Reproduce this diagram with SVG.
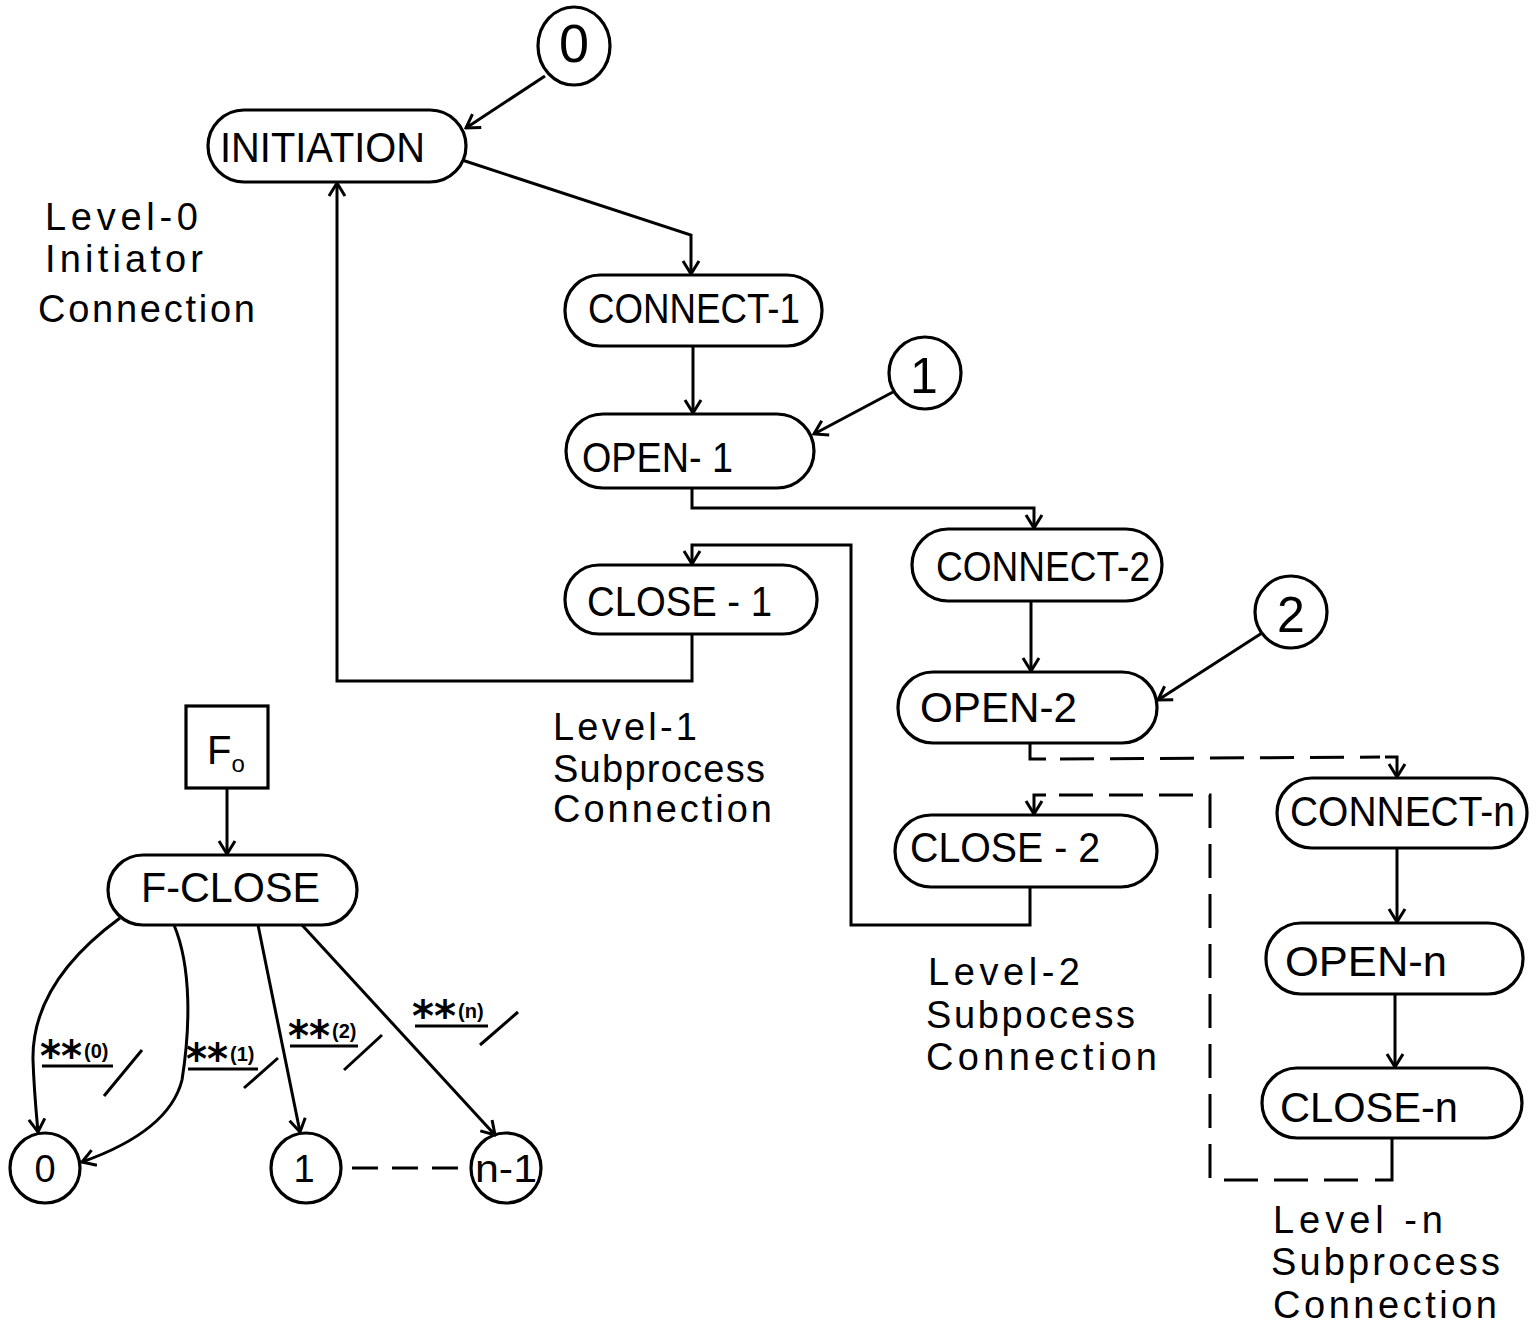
<svg xmlns="http://www.w3.org/2000/svg" width="1540" height="1331" viewBox="0 0 1540 1331">
<style>
.n{fill:none;stroke:#000;stroke-width:3.2}
.c{fill:none;stroke:#000;stroke-width:3}
.d{fill:none;stroke:#000;stroke-width:3;stroke-dasharray:34,16}
.t{font-family:"Liberation Sans",Arial,sans-serif;font-size:42px;fill:#000}
.l{font-family:"Liberation Sans",Arial,sans-serif;font-size:38px;fill:#000}
.a{font-family:"DejaVu Sans",sans-serif;font-size:42px;font-weight:bold;fill:#000}
.p{font-family:"Liberation Sans",Arial,sans-serif;font-size:20px;font-weight:bold;fill:#000}
</style>
<defs>
<marker id="arr" markerWidth="16" markerHeight="20" viewBox="-14 -10 16 20" refX="0" refY="0" orient="auto" markerUnits="userSpaceOnUse">
<path d="M-13,-8 L0,0 L-13,8" fill="none" stroke="#000" stroke-width="3"/>
</marker>
</defs>
<rect width="1540" height="1331" fill="#fff"/>

<g id="connectors">
<path class="c" d="M545,76 L466,128" marker-end="url(#arr)"/>
<path class="c" d="M462,160 L691,235 L691,274" marker-end="url(#arr)"/>
<path class="c" d="M693,346 L693,413" marker-end="url(#arr)"/>
<path class="c" d="M893,392 L814,434" marker-end="url(#arr)"/>
<path class="c" d="M692,488 L692,508 L1034,508 L1034,528" marker-end="url(#arr)"/>
<path class="c" d="M1031,601 L1031,671" marker-end="url(#arr)"/>
<path class="c" d="M1262,633 L1158,700" marker-end="url(#arr)"/>
<path class="c" d="M1030,743 L1030,759 L1046,759"/>
<path class="d" d="M1060,759 L1380,757"/>
<path class="c" d="M1385,757 L1397,757 L1397,777" marker-end="url(#arr)"/>
<path class="c" d="M1397,848 L1397,922" marker-end="url(#arr)"/>
<path class="c" d="M1395,994 L1395,1067" marker-end="url(#arr)"/>
<path class="c" d="M1392,1138 L1392,1180 L1375,1180"/>
<path class="d" d="M1358,1180 L1210,1180 L1210,795 L1050,795"/>
<path class="c" d="M1046,795 L1034,795 L1034,814" marker-end="url(#arr)"/>
<path class="c" d="M1030,887 L1030,925 L851,925 L851,545 L692,545 L692,564" marker-end="url(#arr)"/>
<path class="c" d="M692,634 L692,681 L337,681 L337,183" marker-end="url(#arr)"/>
<path class="c" d="M227,788 L227,854" marker-end="url(#arr)"/>
<path class="c" d="M120,918 C60,962 32,1010 33,1060 C34,1090 36,1110 38,1132" marker-end="url(#arr)"/>
<path class="c" d="M174,925 C192,968 190,1030 182,1080 C172,1120 130,1145 82,1162" marker-end="url(#arr)"/>
<path class="c" d="M258,925 L300,1132" marker-end="url(#arr)"/>
<path class="c" d="M302,925 L495,1135" marker-end="url(#arr)"/>
<path class="c" d="M352,1168 L458,1168" style="stroke-dasharray:26,14"/>
</g>

<g id="circle-0"><ellipse class="n" cx="574" cy="46" rx="36" ry="39"/><text class="t" x="574" y="62" text-anchor="middle" style="font-size:54px">0</text></g>
<g id="initiation"><rect class="n" x="208" y="110" width="258" height="72" rx="36"/><text class="t" x="220" y="162" textLength="205" lengthAdjust="spacingAndGlyphs">INITIATION</text></g>
<g id="connect-1"><rect class="n" x="565" y="275" width="257" height="71" rx="35"/><text class="t" x="588" y="323" textLength="212" lengthAdjust="spacingAndGlyphs">CONNECT-1</text></g>
<g id="circle-1"><circle class="n" cx="925" cy="373" r="36"/><text class="t" x="924" y="393" text-anchor="middle" style="font-size:50px">1</text></g>
<g id="open-1"><rect class="n" x="566" y="414" width="248" height="74" rx="37"/><text class="t" x="582" y="472" textLength="151" lengthAdjust="spacingAndGlyphs">OPEN- 1</text></g>
<g id="close-1"><rect class="n" x="565" y="565" width="252" height="69" rx="34"/><text class="t" x="587" y="616" textLength="185" lengthAdjust="spacingAndGlyphs">CLOSE - 1</text></g>
<g id="connect-2"><rect class="n" x="912" y="529" width="250" height="72" rx="36"/><text class="t" x="936" y="581" textLength="214" lengthAdjust="spacingAndGlyphs">CONNECT-2</text></g>
<g id="circle-2"><circle class="n" cx="1291" cy="612" r="36"/><text class="t" x="1291" y="632" text-anchor="middle" style="font-size:50px">2</text></g>
<g id="open-2"><rect class="n" x="898" y="672" width="259" height="71" rx="35"/><text class="t" x="920" y="722" textLength="157" lengthAdjust="spacingAndGlyphs">OPEN-2</text></g>
<g id="close-2"><rect class="n" x="895" y="815" width="262" height="72" rx="36"/><text class="t" x="910" y="862" textLength="190" lengthAdjust="spacingAndGlyphs">CLOSE - 2</text></g>
<g id="connect-n"><rect class="n" x="1277" y="778" width="250" height="70" rx="35"/><text class="t" x="1290" y="826" textLength="225" lengthAdjust="spacingAndGlyphs">CONNECT-n</text></g>
<g id="open-n"><rect class="n" x="1266" y="923" width="257" height="71" rx="35"/><text class="t" x="1285" y="976" textLength="162" lengthAdjust="spacingAndGlyphs">OPEN-n</text></g>
<g id="close-n"><rect class="n" x="1262" y="1068" width="260" height="70" rx="35"/><text class="t" x="1280" y="1122" textLength="178" lengthAdjust="spacingAndGlyphs">CLOSE-n</text></g>

<g id="f0"><rect class="n" x="186" y="706" width="82" height="82"/><text class="t" x="207" y="764" style="font-size:40px">F<tspan dy="8" style="font-size:24px">o</tspan></text></g>
<g id="f-close"><rect class="n" x="108" y="855" width="249" height="70" rx="35"/><text class="t" x="141" y="902" textLength="179" lengthAdjust="spacingAndGlyphs">F-CLOSE</text></g>
<g id="s0"><circle class="n" cx="45" cy="1168" r="35"/><text class="t" x="45" y="1182" text-anchor="middle" style="font-size:38px">0</text></g>
<g id="s1"><circle class="n" cx="306" cy="1168" r="35"/><text class="t" x="304" y="1182" text-anchor="middle" style="font-size:38px">1</text></g>
<g id="sn1"><circle class="n" cx="506" cy="1168" r="35"/><text class="t" x="475" y="1182" style="font-size:38px" textLength="62" lengthAdjust="spacingAndGlyphs">n-1</text></g>

<g id="edge-labels">
<text class="a" x="40" y="1071" textLength="42" lengthAdjust="spacingAndGlyphs">**</text><text class="p" x="84" y="1058">(0)</text>
<path class="c" d="M42,1066 L113,1066 M104,1096 L142,1050"/>
<text class="a" x="186" y="1074" textLength="42" lengthAdjust="spacingAndGlyphs">**</text><text class="p" x="230" y="1061">(1)</text>
<path class="c" d="M188,1069 L258,1069 M244,1088 L278,1058"/>
<text class="a" x="288" y="1051" textLength="42" lengthAdjust="spacingAndGlyphs">**</text><text class="p" x="332" y="1038">(2)</text>
<path class="c" d="M290,1046 L358,1046 M344,1070 L382,1035"/>
<text class="a" x="412" y="1031" textLength="44" lengthAdjust="spacing">**</text><text class="p" x="458" y="1018">(n)</text>
<path class="c" d="M415,1026 L488,1026 M480,1045 L518,1012"/>
</g>

<g id="level-labels">
<text class="l" x="45" y="230" textLength="153" lengthAdjust="spacing">Level-0</text>
<text class="l" x="45" y="272" textLength="158" lengthAdjust="spacing">Initiator</text>
<text class="l" x="38" y="322" textLength="217" lengthAdjust="spacing">Connection</text>
<text class="l" x="553" y="740" textLength="144" lengthAdjust="spacing">Level-1</text>
<text class="l" x="553" y="782" textLength="212" lengthAdjust="spacing">Subprocess</text>
<text class="l" x="553" y="822" textLength="219" lengthAdjust="spacing">Connection</text>
<text class="l" x="928" y="985" textLength="152" lengthAdjust="spacing">Level-2</text>
<text class="l" x="926" y="1028" textLength="209" lengthAdjust="spacing">Subpocess</text>
<text class="l" x="926" y="1070" textLength="231" lengthAdjust="spacing">Connection</text>
<text class="l" x="1273" y="1233" textLength="170" lengthAdjust="spacing">Level -n</text>
<text class="l" x="1271" y="1275" textLength="229" lengthAdjust="spacing">Subprocess</text>
<text class="l" x="1273" y="1318" textLength="224" lengthAdjust="spacing">Connection</text>
</g>
</svg>
